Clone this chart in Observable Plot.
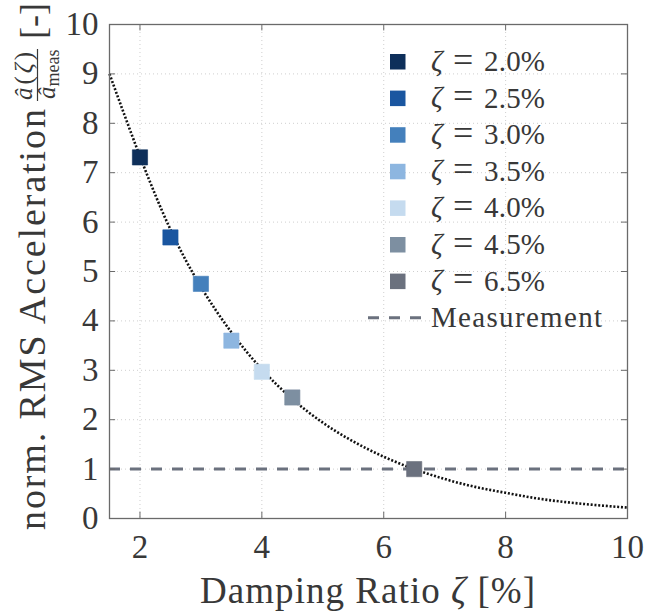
<!DOCTYPE html>
<html>
<head>
<meta charset="utf-8">
<script src="https://cdn.jsdelivr.net/npm/d3@7"></script>
<script src="https://cdn.jsdelivr.net/npm/@observablehq/plot@0.6"></script>
<style>
  html, body { margin: 0; padding: 0; background: #fff; }
  svg { display: block; }
  svg, svg text, svg tspan { font-family: "Liberation Serif", "Times New Roman", serif !important; font-variant-numeric: normal !important; }
</style>
</head>
<body>
<div id="chart"></div>
<script>
// ---- data ----
const zetaValues = [2.0, 2.5, 3.0, 3.5, 4.0, 4.5, 6.5];
const accelValues = [7.31, 5.69, 4.75, 3.60, 2.97, 2.45, 1.00];
const zetaNumbers = ["2.0%", "2.5%", "3.0%", "3.5%", "4.0%", "4.5%", "6.5%"];
const zetaColors = ["#0e2f5a", "#1a56a0", "#4480bc", "#8db6e0", "#c5dbef", "#7d8fa1", "#6b717e"];

const fitX = [1.5, 2.0, 2.5, 3.0, 3.5, 4.0, 4.5, 5.0, 5.5, 6.0, 6.5, 7.0, 7.5, 8.0, 8.5, 9.0, 9.5, 10.0];
const fitY = [9.00, 7.33, 5.85, 4.69, 3.77, 3.02, 2.42, 1.94, 1.56, 1.25, 1.00, 0.80, 0.64, 0.52, 0.41, 0.33, 0.27, 0.22];

const measurementLevel = 1;
const measurementLabel = "Measurement";
const xTicks = [2, 4, 6, 8, 10];
const yTicks = [0, 1, 2, 3, 4, 5, 6, 7, 8, 9, 10];
const xDomain = [1.5, 10];
const yDomain = [0, 10];

// ---- build tables ----
const points = zetaValues.map((z, i) => ({zeta: z, accel: accelValues[i], color: zetaColors[i], num: zetaNumbers[i]}));
const fit = fitX.map((x, i) => ({x, y: fitY[i]}));

const W = 645, H = 611;
const mL = 109, mR = 18, mT = 24, mB = 93;
const ink = "#383838";
const axisInk = "#6a6a6a";
const serif = "Liberation Serif, serif";
const measColor = "#6b717e";

const plot = Plot.plot({
  width: W, height: H,
  marginLeft: mL, marginRight: mR, marginTop: mT, marginBottom: mB,
  style: {fontSize: "32px", color: ink, background: "#fff", fontFamily: "Liberation Serif, serif"},
  x: {domain: xDomain},
  y: {domain: yDomain},
  marks: [
    Plot.gridX(xTicks, {stroke: "#cfcfcf", strokeOpacity: 1, strokeDasharray: "1,3"}),
    Plot.gridY(yTicks, {stroke: "#cfcfcf", strokeOpacity: 1, strokeDasharray: "1,3"}),
    Plot.ruleY([measurementLevel], {x1: xDomain[0], x2: xDomain[1], stroke: measColor, strokeWidth: 3, strokeDasharray: "11,10"}),
    Plot.line(fit, {x: "x", y: "y", curve: "natural", stroke: "#111", strokeWidth: 2.6, strokeLinecap: "butt", strokeDasharray: "2,1.8"}),
    Plot.dot(points, {x: "zeta", y: "accel", symbol: "square", r: 8.6, fill: d => d.color, stroke: d => d.color, strokeWidth: 0.6}),
    Plot.ruleX(xTicks, {x: d => d, y1: yDomain[0], y2: 0.13, stroke: axisInk, strokeWidth: 1}),
    Plot.ruleX(xTicks, {x: d => d, y1: 9.87, y2: yDomain[1], stroke: axisInk, strokeWidth: 1}),
    Plot.ruleY(yTicks, {y: d => d, x1: xDomain[0], x2: 1.6, stroke: axisInk, strokeWidth: 1}),
    Plot.ruleY(yTicks, {y: d => d, x1: 9.9, x2: xDomain[1], stroke: axisInk, strokeWidth: 1}),
    Plot.frame({stroke: axisInk, strokeWidth: 1.3}),
    Plot.axisX(xTicks, {tickSize: 0, tickPadding: 16, label: null, fontSize: 33, fontFamily: "Liberation Serif"}),
    Plot.axisY(yTicks, {tickSize: 0, tickPadding: 11, label: null, fontSize: 33, fontFamily: "Liberation Serif"})
  ]
});

document.getElementById("chart").appendChild(plot);
const svg = d3.select(plot);

function txt(sel) {
  return sel.attr("fill", ink).attr("font-family", serif).attr("text-anchor", "start");
}

// x axis label
txt(svg.append("text"))
  .attr("x", 200).attr("y", 603)
  .attr("font-size", 37)
  .attr("textLength", 335).attr("lengthAdjust", "spacing")
  .html('Damping Ratio <tspan font-style="italic">ζ</tspan> [%]');

// y axis label (rotated): x' = 530 - screenY, y' = screenX - 45
const yl = svg.append("g").attr("transform", "translate(45,530) rotate(-90)");
txt(yl.append("text")).attr("x", 0).attr("y", 0).attr("font-size", 38)
  .attr("textLength", 421).attr("lengthAdjust", "spacing")
  .text("norm. RMS Acceleration");
// fraction
txt(yl.append("text")).attr("x", 430).attr("y", -13).attr("font-size", 25)
  .attr("textLength", 48).attr("lengthAdjust", "spacing")
  .html('<tspan font-style="italic">â</tspan>(<tspan font-style="italic">ζ</tspan>)');
yl.append("line").attr("x1", 429).attr("x2", 481).attr("y1", -7.5).attr("y2", -7.5)
  .attr("stroke", ink).attr("stroke-width", 1.2);
txt(yl.append("text")).attr("x", 431).attr("y", 10).attr("font-size", 25)
  .html('<tspan font-style="italic">â</tspan><tspan font-size="18" dy="4">meas</tspan>');
txt(yl.append("text")).attr("x", 491).attr("y", 0).attr("font-size", 36).text("[-]");

// legend
const lg = svg.append("g");
const rowStep = 36.6, row0 = 61.5;
points.forEach((p, i) => {
  const cy = row0 + i * rowStep;
  lg.append("rect").attr("x", 390).attr("y", cy - 7.5).attr("width", 15.5).attr("height", 15.5)
    .attr("fill", p.color);
  txt(lg.append("text")).attr("x", 431).attr("y", cy + 9).attr("font-size", 29).attr("font-style", "italic").text("ζ");
  txt(lg.append("text")).attr("x", 453).attr("y", cy + 10).attr("font-size", 36).text("=");
  txt(lg.append("text")).attr("x", 484).attr("y", cy + 9.5).attr("font-size", 29)
    .attr("textLength", 61).attr("lengthAdjust", "spacing").text(p.num);
});
const my = row0 + zetaValues.length * rowStep;
lg.append("line").attr("x1", 368).attr("x2", 421).attr("y1", my).attr("y2", my)
  .attr("stroke", measColor).attr("stroke-width", 3).attr("stroke-dasharray", "11,10");
txt(lg.append("text")).attr("x", 431).attr("y", my + 9.5).attr("font-size", 29)
  .attr("textLength", 171).attr("lengthAdjust", "spacing")
  .text(measurementLabel);
</script>
</body>
</html>
